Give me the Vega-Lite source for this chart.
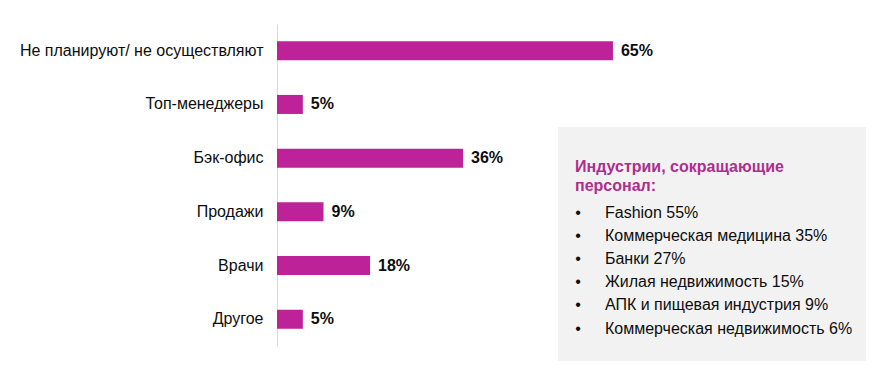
{
  "$schema": "https://vega.github.io/schema/vega-lite/v6.json",
  "autosize": {"type": "none"},
  "width": 613,
  "height": 322,
  "padding": {"left": 277, "top": 24, "right": 0, "bottom": 29},
  "background": "white",
  "config": {"view": {"stroke": null}, "font": "Liberation Sans"},
  "datasets": {
    "bars": [
      {"category": "Не планируют/ не осуществляют", "value": 0.65},
      {"category": "Топ-менеджеры", "value": 0.05},
      {"category": "Бэк-офис", "value": 0.36},
      {"category": "Продажи", "value": 0.09},
      {"category": "Врачи", "value": 0.18},
      {"category": "Другое", "value": 0.05}
    ],
    "items": [
      {"n": 1, "item": "Fashion 55%"},
      {"n": 2, "item": "Коммерческая медицина 35%"},
      {"n": 3, "item": "Банки 27%"},
      {"n": 4, "item": "Жилая недвижимость 15%"},
      {"n": 5, "item": "АПК и пищевая индустрия 9%"},
      {"n": 6, "item": "Коммерческая недвижимость 6%"}
    ],
    "note": [{"title": "Индустрии, сокращающие\nперсонал:"}]
  },
  "layer": [
    {
      "data": {"name": "bars"},
      "encoding": {
        "y": {
          "field": "category", "type": "nominal", "sort": null,
          "scale": {"paddingInner": 0.646, "paddingOuter": 0.321},
          "axis": {
            "title": null, "ticks": false, "labelFontSize": 16, "labelColor": "#0d0d0d",
            "labelPadding": 14, "labelLimit": 0, "domainColor": "#d9d9d9", "domainWidth": 1, "grid": false
          }
        },
        "x": {
          "field": "value", "type": "quantitative",
          "scale": {"domain": [0, 1.186], "nice": false, "zero": true},
          "axis": null
        }
      },
      "layer": [
        {"mark": {"type": "bar", "color": "#BE2298"}},
        {
          "mark": {"type": "text", "align": "left", "baseline": "middle", "dx": 8, "fontSize": 16, "fontWeight": "bold", "color": "#0d0d0d"},
          "encoding": {"text": {"field": "value", "type": "quantitative", "format": ".0%"}}
        }
      ]
    },
    {
      "layer": [
        {
          "data": {"name": "note"},
          "mark": {"type": "rect", "color": "#F2F2F2"},
          "encoding": {
            "x": {"datum": 0.4584, "type": "quantitative", "scale": {"domain": [0, 1], "nice": false, "zero": false}, "axis": null},
            "x2": {"datum": 0.9608},
            "y": {"datum": -2.694, "type": "quantitative", "scale": {"domain": [-7.134, 6.746], "nice": false, "zero": false, "reverse": true}, "axis": null},
            "y2": {"datum": 7.392}
          }
        },
        {
          "data": {"name": "note"},
          "mark": {"type": "text", "align": "left", "baseline": "middle", "fontSize": 16, "fontWeight": "bold", "color": "#B02C8F", "lineBreak": "\n", "lineHeight": 19},
          "encoding": {
            "x": {"datum": 0.4861, "type": "quantitative"},
            "y": {"datum": -0.991, "type": "quantitative"},
            "text": {"field": "title", "type": "nominal"}
          }
        },
        {
          "data": {"name": "items"},
          "mark": {"type": "text", "align": "center", "baseline": "middle", "fontSize": 16, "color": "#0d0d0d"},
          "encoding": {
            "x": {"datum": 0.491, "type": "quantitative"},
            "y": {"field": "n", "type": "quantitative"},
            "text": {"value": "•"}
          }
        },
        {
          "data": {"name": "items"},
          "mark": {"type": "text", "align": "left", "baseline": "middle", "fontSize": 16, "color": "#0d0d0d"},
          "encoding": {
            "x": {"datum": 0.535, "type": "quantitative"},
            "y": {"field": "n", "type": "quantitative"},
            "text": {"field": "item", "type": "nominal"}
          }
        }
      ]
    }
  ],
  "resolve": {"scale": {"x": "independent", "y": "independent"}}
}
